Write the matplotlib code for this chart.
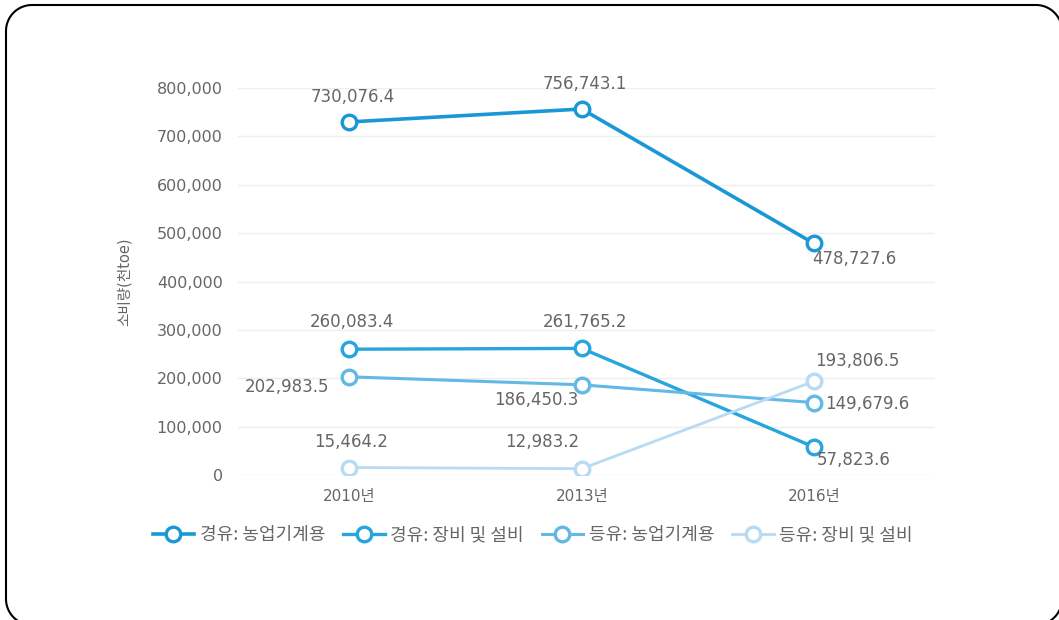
import matplotlib
matplotlib.use("Agg")
import matplotlib.pyplot as plt
from matplotlib.lines import Line2D
import numpy as np

plt.rcParams['font.family'] = ['DejaVu Sans', 'Noto Sans CJK KR']

years = ['2010년', '2013년', '2016년']
series_names = ['경유: 농업기계용', '경유: 장비 및 설비', '등유: 농업기계용', '등유: 장비 및 설비']
diesel_farm = [730076.4, 756743.1, 478727.6]
diesel_equip = [260083.4, 261765.2, 57823.6]
kerosene_farm = [202983.5, 186450.3, 149679.6]
kerosene_equip = [15464.2, 12983.2, 193806.5]
yticks = [0, 100000, 200000, 300000, 400000, 500000, 600000, 700000, 800000]

colors = ['#1a98d6', '#27a5dc', '#62b9e5', '#b6dbf3']
widths = [2.6, 2.4, 2.2, 2.0]
txt = '#666666'
# label offsets in pixels (dx, dy) per point
offsets = [
    [(3, 25), (3, 25), (40, -16)],
    [(2, 27), (3, 26), (40, -13)],
    [(-62, -10), (-45, -15), (53, -1)],
    [(2, 26), (-40, 27), (43, 20)],
]

fig = plt.figure(figsize=(10.59, 6.2), dpi=100)
ax = fig.add_axes([0.2247, 0.2339, 0.658, 0.624])

x = list(range(len(years)))
all_series = [diesel_farm, diesel_equip, kerosene_farm, kerosene_equip]
for vals, name, c, lw, offs in zip(all_series, series_names, colors, widths, offsets):
    ax.plot(x, vals, color=c, lw=lw, marker='o', markersize=10.5,
            markerfacecolor='white', markeredgewidth=2.4, markeredgecolor=c,
            label=name, zorder=3)
    for xi, v, (dx, dy) in zip(x, vals, offs):
        ax.annotate(f'{v:,.1f}', (xi, v), xytext=(dx, dy), textcoords='offset pixels',
                    ha='center', va='center', fontsize=12, color=txt, zorder=4)

ax.set_xlim(-0.48, 2.52)
ax.set_ylim(0, 800000)
ax.set_yticks(yticks)
ax.set_yticklabels([f'{t:,}' for t in yticks])
ax.set_xticks(x)
ax.set_xticklabels(years)
ax.tick_params(length=0, labelsize=11.5, labelcolor=txt)
ax.tick_params(axis='x', pad=10, labelsize=11)
ax.tick_params(axis='y', pad=11)
for s in ax.spines.values():
    s.set_visible(False)
ax.grid(axis='y', color='#eeeeee', lw=1)
ax.set_axisbelow(True)
ax.set_ylabel('소비량(천toe)', fontsize=10.5, color=txt, labelpad=18)

fig.legend(loc='center', bbox_to_anchor=(0.503, 0.137), ncol=4, frameon=False,
           labelcolor=txt, handlelength=2.3, handletextpad=0.3,
           columnspacing=1.0, prop={'family': ['Noto Sans CJK KR'], 'size': 13})

# rounded frame in figure pixels (right/bottom edges run off the canvas)
x0, y0, x1, y1, r = 6, -5, 1062, 615, 26
t = np.linspace(0, np.pi / 2, 30)
bx, by = [], []
for cx, cy, a0 in [(x1 - r, y1 - r, 0), (x0 + r, y1 - r, np.pi / 2),
                   (x0 + r, y0 + r, np.pi), (x1 - r, y0 + r, 1.5 * np.pi)]:
    bx += list(cx + r * np.cos(a0 + t))
    by += list(cy + r * np.sin(a0 + t))
bx.append(bx[0])
by.append(by[0])
fig.lines.append(Line2D(bx, by, transform=None, color='black', lw=1.5))

fig.savefig('out.png', dpi=100)
